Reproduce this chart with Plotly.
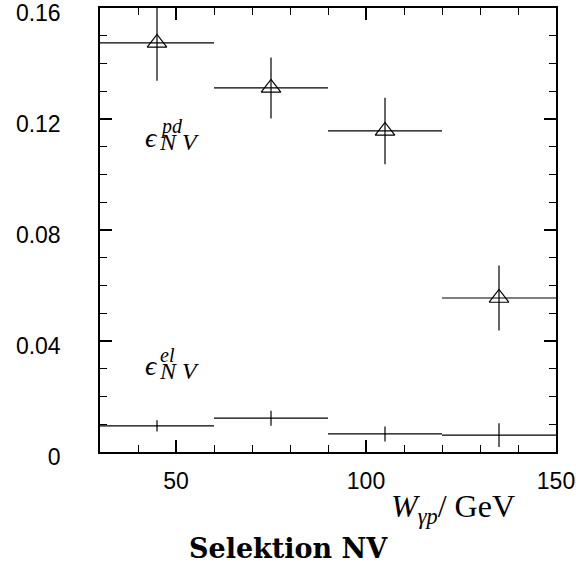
import plotly.graph_objects as go

# Data
bin_centers = [45, 75, 105, 135]
bin_halfwidth = [15, 15, 15, 15]
eff_pd = [0.1474, 0.1312, 0.1157, 0.0555]
eff_pd_err = [0.0136, 0.011, 0.012, 0.0117]
eff_el = [0.0094, 0.0122, 0.0065, 0.0061]
eff_el_err = [0.002, 0.0027, 0.0027, 0.0043]
y_ticks = [0, 0.04, 0.08, 0.12, 0.16]
y_ticklabels = ["0", "0.04", "0.08", "0.12", "0.16"]
x_ticks = [50, 100, 150]
x_ticklabels = ["50", "100", "150"]

fig = go.Figure()
fig.add_trace(go.Scatter(
    x=bin_centers, y=eff_pd, mode="markers",
    marker=dict(symbol="triangle-up-open", size=17, color="black", line=dict(width=1.2)),
    error_x=dict(type="data", array=bin_halfwidth, width=0, thickness=1.2, color="black"),
    error_y=dict(type="data", array=eff_pd_err, width=0, thickness=1.2, color="black"),
    showlegend=False))
fig.add_trace(go.Scatter(
    x=bin_centers, y=eff_el, mode="markers",
    marker=dict(size=1, color="black"),
    error_x=dict(type="data", array=bin_halfwidth, width=0, thickness=1.2, color="black"),
    error_y=dict(type="data", array=eff_el_err, width=0, thickness=1.2, color="black"),
    showlegend=False))

axis_common = dict(showline=True, linecolor="black", linewidth=1.5, mirror="ticks",
                   ticks="inside", ticklen=12, tickwidth=1.5, tickcolor="black",
                   showgrid=False, zeroline=False, automargin=False,
                   ticklabeloverflow="allow",
                   tickfont=dict(family="Liberation Sans, Arial", size=23, color="black"))

fig.update_xaxes(range=[30, 150], tickvals=x_ticks, ticktext=x_ticklabels, ticklabelstandoff=8,
                 minor=dict(ticks="inside", ticklen=7, dtick=10, tickcolor="black", tickwidth=1),
                 **axis_common)
fig.update_yaxes(range=[0, 0.16], tickvals=y_ticks, ticktext=y_ticklabels, ticklabelstandoff=33,
                 ticklabelshift=5,
                 minor=dict(ticks="inside", ticklen=7, dtick=0.01, tickcolor="black", tickwidth=1),
                 **axis_common)

def txt(x, y, t, size, anchor="left"):
    fig.add_annotation(x=x, y=y, xref="x", yref="y", text=t, showarrow=False,
                       xanchor=anchor, yanchor="middle",
                       font=dict(family="Liberation Serif, serif", size=size, color="black"))

# epsilon labels
txt(43.6, 0.1134, "<i>ϵ</i>", 28, "center")
txt(45.2, 0.1174, "<i>pd</i>", 20)
txt(44.9, 0.1118, "<i>N V</i>", 24)
txt(43.6, 0.0310, "<i>ϵ</i>", 28, "center")
txt(45.2, 0.0348, "<i>el</i>", 20)
txt(44.9, 0.0292, "<i>N V</i>", 24)

fig.add_annotation(x=(453 - 100) / 456, y=-(508 - 452) / 444, xref="paper", yref="paper",
                   text="<i>W</i><sub><i>γp</i></sub>/ GeV", showarrow=False,
                   xanchor="center", yanchor="middle",
                   font=dict(family="Liberation Serif, serif", size=32, color="black"))
fig.add_annotation(x=(288 - 100) / 456, y=-(548 - 452) / 444, xref="paper", yref="paper",
                   text="<b>Selektion NV</b>", showarrow=False,
                   xanchor="center", yanchor="middle",
                   font=dict(family="DejaVu Serif, serif", size=27, color="black"))

fig.update_layout(width=576, height=567, margin=dict(l=100, r=20, t=8, b=115),
                  plot_bgcolor="white", paper_bgcolor="white")
fig.write_html("out.html", config={"displayModeBar": False},
               post_script="document.body.style.margin='0';document.body.style.overflow='hidden';")
